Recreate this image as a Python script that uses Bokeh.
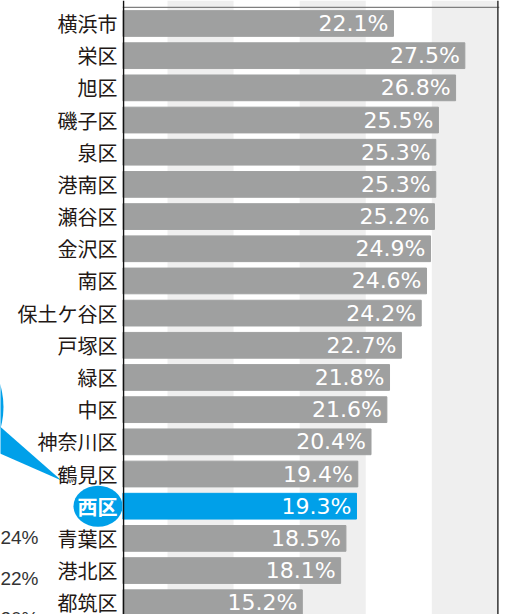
from bokeh.plotting import figure
from bokeh.models import ColumnDataSource, Range1d, BoxAnnotation, Span
from bokeh.layouts import row
from bokeh.embed import file_html
from bokeh.resources import INLINE
from bokeh.core.properties import value

# ---- data ----
wards = ["横浜市", "栄区", "旭区", "磯子区", "泉区", "港南区", "瀬谷区", "金沢区", "南区",
         "保土ケ谷区", "戸塚区", "緑区", "中区", "神奈川区", "鶴見区", "西区", "青葉区",
         "港北区", "都筑区"]
rates = [22.1, 27.5, 26.8, 25.5, 25.3, 25.3, 25.2, 24.9, 24.6,
         24.2, 22.7, 21.8, 21.6, 20.4, 19.4, 19.3, 18.5, 18.1, 15.2]
highlight = "西区"
band_ticks = [0, 5, 10, 15, 20, 25, 30]
side_chart_ticks = ["24%", "22%", "20%"]
side_chart_rows = [15.97, 17.25, 18.5]

GRAY = "#9fa0a0"
BLUE = "#00a0e9"
BAND = "#efefef"
INK = "#231815"

rows = list(range(len(wards)))
hi = wards.index(highlight)
colors = [BLUE if w == highlight else GRAY for w in wards]
labels = [f"{v:.1f}%" for v in rates]
src = ColumnDataSource(dict(y=rows, v=rates, c=colors, t=labels))
name_src = ColumnDataSource(dict(y=[r for r, w in zip(rows, wards) if w != highlight],
                                 t=[w for w in wards if w != highlight]))

H = 614
PITCH = 32.18
ROW0_PX = 23.0
y_top = -ROW0_PX / PITCH
y_range = Range1d(y_top + H / PITCH, y_top)

AXIS_START = 1.67
PX_PER = 13.215
LEFT_W = 122

# ---------------- label panel ----------------
lp = figure(width=LEFT_W, height=H, output_backend="svg", toolbar_location=None,
            x_range=Range1d(0, LEFT_W), y_range=y_range,
            min_border_left=0, min_border_right=0, min_border_top=0, min_border_bottom=0)
lp.axis.visible = False
lp.grid.visible = False
lp.outline_line_color = None

# callout bubble of neighbouring panel (cropped)
lp.circle(x=-75.5, y=(406.5 - ROW0_PX) / PITCH, radius=78.5, radius_units="screen",
          fill_color=BLUE, line_color=None)
lp.patch(x=[-5, -5, 61], y=[(422 - ROW0_PX) / PITCH, (451 - ROW0_PX) / PITCH,
                            (480 - ROW0_PX) / PITCH],
         fill_color=BLUE, line_color=None)

lp.text(x=117, y="y", text="t", source=name_src, text_align="right", text_baseline="middle",
        text_color=INK, text_font_size="20px", text_font=value("Noto Sans CJK JP"))

lp.ellipse(x=97.5, y=hi, width=49, height=41, width_units="screen", height_units="screen",
           fill_color=BLUE, line_color=None)
lp.text(x=117, y=[hi], text=[highlight], text_align="right", text_baseline="middle",
        text_color="white", text_font_size="20px", text_font_style="bold",
        text_font=value("Noto Sans CJK JP"))

# cropped tick labels of neighbouring chart
lp.text(x=38, y=side_chart_rows, text=side_chart_ticks, text_align="right",
        text_baseline="middle", text_color="#333333", text_font_size="19px",
        text_font=value("Liberation Sans"))

# ---------------- bar panel ----------------
RIGHT_W = 527 - LEFT_W
MB_R = 28
frame_w = RIGHT_W - MB_R
x0 = AXIS_START - 1 / PX_PER
x_range = Range1d(x0, x0 + frame_w / PX_PER)

p = figure(width=RIGHT_W, height=H, output_backend="svg", toolbar_location=None,
           x_range=x_range, y_range=y_range,
           min_border_left=0, min_border_right=MB_R, min_border_top=0, min_border_bottom=0)
p.outline_line_color = None
p.axis.visible = False
p.grid.visible = False

for a, b in zip(band_ticks[1::2], band_ticks[2::2]):
    p.add_layout(BoxAnnotation(left=a, right=b, fill_color=BAND, fill_alpha=1,
                               line_color=None, level="underlay"))

p.hbar(y="y", left=0, right="v", height=0.8, color="c", source=src)
p.text(x="v", y="y", text="t", source=src, x_offset=-5, text_align="right",
       text_baseline="middle", text_color="white", text_font_size="22px",
       text_font=value("DejaVu Sans"))

p.add_layout(Span(location=-0.5, dimension="width", line_color="#7f7f7f", line_width=1.2))
p.add_layout(Span(location=AXIS_START, dimension="height", line_color="#111111", line_width=1.5))
p.add_layout(Span(location=band_ticks[-1], dimension="height", line_color="#333333", line_width=1.5))

open("out.html", "w").write(file_html(row(lp, p), INLINE))
